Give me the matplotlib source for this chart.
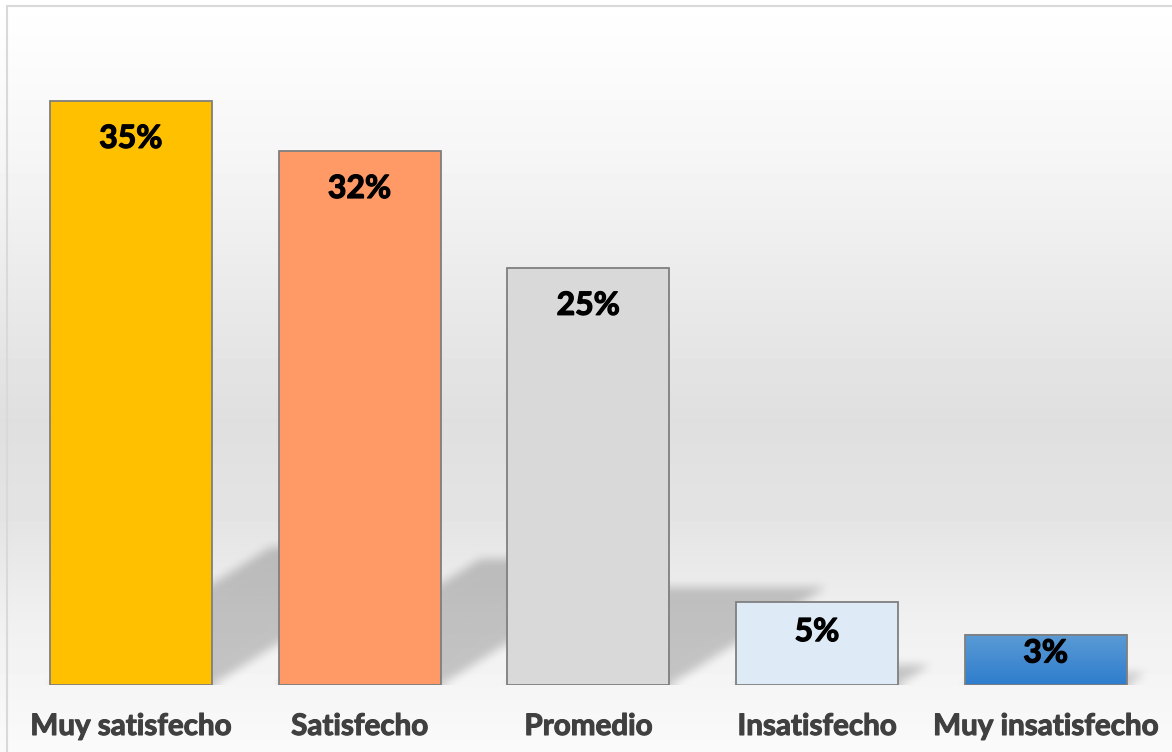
import numpy as np
import matplotlib.pyplot as plt
import matplotlib.patheffects as pe
from matplotlib.patches import Rectangle

categories = ["Muy satisfecho", "Satisfecho", "Promedio", "Insatisfecho", "Muy insatisfecho"]
values = [35, 32, 25, 5, 3]
labels = ["35%", "32%", "25%", "5%", "3%"]
colors = ["#ffc000", "#ff9966", "#d9d9d9", "#deebf7", None]

plt.rcParams["font.family"] = ["Lato", "DejaVu Sans"]

W, H = 1172, 752
fig = plt.figure(figsize=(W / 100, H / 100), dpi=100)

# fondo con degradado vertical
bg = fig.add_axes([0, 0, 1, 1], zorder=-2)
ys = np.array([0, 150, 300, 420, 520, 620, 752])
gs = np.array([255, 246, 233, 223, 228, 240, 250]) / 255
grad = np.interp(np.arange(H), ys, gs)
bg.imshow(np.repeat(grad[:, None], 2, axis=1), cmap="gray", vmin=0, vmax=1,
          aspect="auto", extent=(0, 1, 0, 1), origin="upper")
bg.set_xlim(0, 1)
bg.set_ylim(0, 1)
bg.axis("off")
bg.add_patch(Rectangle((7 / W, -0.1), 1.2, 1 - 5.5 / H + 0.1, fill=False,
                       edgecolor="#d9d9d9", linewidth=1.5))

ax = fig.add_axes([16.6 / W, 1 - 685 / H, 1143.5 / W, 667.6 / H])
ax.patch.set_alpha(0)
ax.set_xlim(-0.5, 4.5)
ax.set_ylim(0, 40)
ax.axis("off")

width = 0.708
x = np.arange(len(values))

# sombras en perspectiva (difuminadas)
nx, ny = 1144, 668
gx = np.linspace(-0.5, 4.5, nx)
gy = np.linspace(0, 40, ny)
GX, GY = np.meshgrid(gx, gy)
mask = np.zeros_like(GX)
for xi, v in zip(x, values):
    sh = 0.235 * v
    shift = GY * 0.1168
    inside = (GY <= sh) & (GX >= xi - width / 2 + shift) & (GX <= xi + width / 2 + shift)
    mask[inside] = 1.0


def box_blur(a, r, axis):
    pad = [(0, 0), (0, 0)]
    pad[axis] = (r, r)
    p = np.pad(a, pad, mode="edge")
    c = np.cumsum(p, axis=axis)
    c = np.insert(c, 0, 0, axis=axis)
    n = a.shape[axis]
    hi = np.take(c, np.arange(2 * r + 1, 2 * r + 1 + n), axis=axis)
    lo = np.take(c, np.arange(0, n), axis=axis)
    return (hi - lo) / (2 * r + 1)


for _ in range(3):
    mask = box_blur(mask, 4, 0)
    mask = box_blur(mask, 4, 1)

rgba = np.zeros((ny, nx, 4))
rgba[..., 3] = mask * 0.2
ax.imshow(rgba, extent=(-0.5, 4.5, 0, 40), origin="lower", aspect="auto", zorder=1)

bars = ax.bar(x, values, width=width, color=[c if c else "none" for c in colors],
              edgecolor="#7f7f7f", linewidth=1.3, zorder=3)

# degradado azul de la última barra
b = bars[4]
blue = np.array([[91, 155, 213], [46, 125, 205]]) / 255
t = np.linspace(0, 1, 50)[:, None]
grad_b = blue[0] * (1 - t) + blue[1] * t
ax.imshow(grad_b[:, None, :], extent=(b.get_x(), b.get_x() + b.get_width(), 0, b.get_height()),
          origin="upper", aspect="auto", zorder=2)

for xi, v, lab in zip(x, values, labels):
    off = min(2.25, 0.36 * v)
    ax.text(xi, v - off, lab, ha="center", va="center", fontsize=23,
            fontweight="bold", color="black", zorder=4,
            path_effects=[pe.withStroke(linewidth=0.9, foreground="black")])
    ax.annotate(categories[xi], (xi, 0), xytext=(0, -29.5), textcoords="offset points",
                ha="center", va="center", fontsize=21.3, fontweight="bold",
                color="#404040", annotation_clip=False,
                path_effects=[pe.withStroke(linewidth=0.8, foreground="#404040")])

plt.savefig("out.png", dpi=100)
